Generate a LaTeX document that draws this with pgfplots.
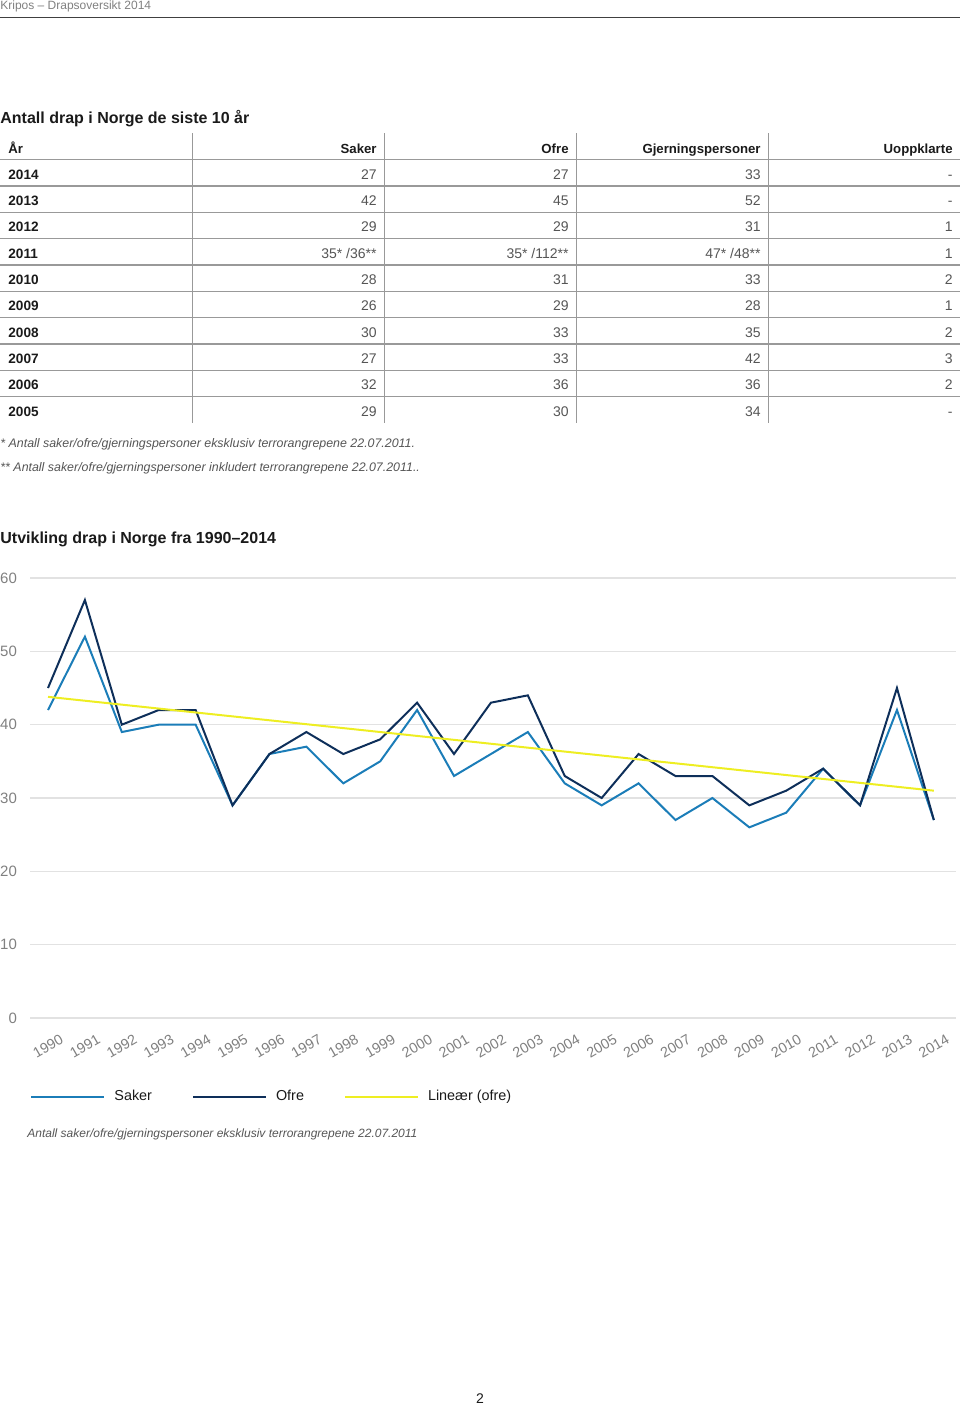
\documentclass[border=0pt]{standalone}
\usepackage{pgfplots}
\pgfplotsset{compat=1.18}
\usepackage{fontspec}
\setmainfont{Liberation Sans}
\definecolor{saker}{HTML}{1B7DB8}
\definecolor{ofre}{HTML}{0E2F5A}
\definecolor{trend}{HTML}{EEEE22}
\definecolor{gridc}{HTML}{E2E2E2}
\definecolor{rulec}{HTML}{999999}
\definecolor{numc}{HTML}{555555}
\definecolor{headc}{HTML}{1A1A1A}
\pgfplotstableread{
x saker ofre
0 42 45
1 52 57
2 39 40
3 40 42
4 40 42
5 29 29
6 36 36
7 37 39
8 32 36
9 35 38
10 42 43
11 33 36
12 36 43
13 39 44
14 32 33
15 29 30
16 32 36
17 27 33
18 30 33
19 26 29
20 28 31
21 34 34
22 29 29
23 42 45
24 27 27
}\drapdata
\pgfplotstableread{
x trend
0 43.8
24 31.0
}\trenddata
\begin{document}
\begin{tikzpicture}
\useasboundingbox (0,0) rectangle (480pt,-704pt);
\begin{scope}[x=0.5pt,y=-0.5pt]
% page header
\node[anchor=base west,inner sep=0,text=gray,font=\fontsize{6}{7}\selectfont] at (0,9.5) {Kripos – Drapsoversikt 2014};
\draw[color=black!75,line width=0.5pt] (0,17) -- (960,17);
% table title
\node[anchor=base west,inner sep=0,text=headc,font=\fontsize{8}{9.6}\selectfont\bfseries] at (0,123.3) {Antall drap i Norge de siste 10 år};
% table lines
\foreach \yy in {159.5,186,212.3,238.6,265,291.3,317.6,344,370.3,396.6}
  \draw[color=rulec,line width=0.7pt] (0,\yy) -- (960,\yy);
\foreach \xx in {192,384,576,768}
  \draw[color=rulec,line width=0.5pt] (\xx,133) -- (\xx,423);
% header row
\begin{scope}[every node/.style={inner sep=0,text=headc,font=\fontsize{6.6}{8}\selectfont\bfseries}]
\node[anchor=base west] at (8,153.3) {År};
\node[anchor=base east] at (377,153.3) {Saker};
\node[anchor=base east] at (569,153.3) {Ofre};
\node[anchor=base east] at (761,153.3) {Gjerningspersoner};
\node[anchor=base east] at (953,153.3) {Uoppklarte};
\end{scope}
% rows
\foreach \yr/\a/\b/\c/\d [count=\i from 0] in {2014/27/27/33/-,2013/42/45/52/-,2012/29/29/31/1,2011/{35* /36**}/{35* /112**}/{47* /48**}/1,2010/28/31/33/2,2009/26/29/28/1,2008/30/33/35/2,2007/27/33/42/3,2006/32/36/36/2,2005/29/30/34/-}{
  \pgfmathsetmacro{\by}{179.3+26.33*\i}
  \node[anchor=base west,inner sep=0,text=headc,font=\fontsize{6.8}{8}\selectfont\bfseries] at (8,\by) {\yr};
  \node[anchor=base east,inner sep=0,text=numc,font=\fontsize{7}{8}\selectfont] at (377,\by) {\a};
  \node[anchor=base east,inner sep=0,text=numc,font=\fontsize{7}{8}\selectfont] at (569,\by) {\b};
  \node[anchor=base east,inner sep=0,text=numc,font=\fontsize{7}{8}\selectfont] at (761,\by) {\c};
  \node[anchor=base east,inner sep=0,text=numc,font=\fontsize{7}{8}\selectfont] at (953,\by) {\d};
}
% footnotes
\node[anchor=base west,inner sep=0,text=numc,font=\fontsize{6.2}{7}\selectfont\itshape] at (0,447) {* Antall saker/ofre/gjerningspersoner eksklusiv terrorangrepene 22.07.2011.};
\node[anchor=base west,inner sep=0,text=numc,font=\fontsize{6.2}{7}\selectfont\itshape] at (0,471) {** Antall saker/ofre/gjerningspersoner inkludert terrorangrepene 22.07.2011..};
% chart title
\node[anchor=base west,inner sep=0,text=headc,font=\fontsize{8}{9.6}\selectfont\bfseries] at (0,543.5) {Utvikling drap i Norge fra 1990–2014};
% bottom note
\node[anchor=base west,inner sep=0,text=numc,font=\fontsize{6}{7}\selectfont\itshape] at (27,1137) {Antall saker/ofre/gjerningspersoner eksklusiv terrorangrepene 22.07.2011};
% page number
\node[anchor=base,inner sep=0,text=headc,font=\fontsize{7}{8}\selectfont] at (480,1403) {2};
\end{scope}
\begin{axis}[
  at={(15pt,-509pt)}, anchor=south west,
  width=463pt, height=220pt, scale only axis,
  xmin=-0.4875, xmax=24.6, ymin=0, ymax=60,
  axis line style={draw=none},
  major tick length=0pt,
  ytick={0,10,...,60},
  xtick={0,...,24},
  xticklabels={1990,1991,1992,1993,1994,1995,1996,1997,1998,1999,2000,2001,2002,2003,2004,2005,2006,2007,2008,2009,2010,2011,2012,2013,2014},
  ymajorgrids,
  grid style={color=gridc,line width=0.75pt},
  yticklabel style={text=gray,font=\fontsize{7.5}{9}\selectfont,xshift=-3pt},
  xticklabel style={text=gray,font=\fontsize{7.2}{9}\selectfont,anchor=center,yshift=-14pt,rotate=30},
  /pgf/number format/assume math mode=true,
  clip=false,
  legend columns=3,
  legend style={at={(axis description cs:0,-0.1795)},anchor=west,draw=none,fill=none,inner sep=0pt,
    font=\fontsize{7.2}{9}\selectfont,text=headc,
    /tikz/every odd column/.append style={column sep=2.5pt},
    /tikz/every even column/.append style={column sep=18pt}},
  legend image code/.code={\draw[#1,line width=1pt] (0pt,0pt) -- (36.5pt,0pt);},
]
\addplot[color=saker,line width=1pt] table[x=x,y=saker] {\drapdata};
\addlegendentry{Saker}
\addplot[color=ofre,line width=1pt] table[x=x,y=ofre] {\drapdata};
\addlegendentry{Ofre}
\addplot[color=trend,line width=1pt] table[x=x,y=trend] {\trenddata};
\addlegendentry{Lineær (ofre)}
\end{axis}
\end{tikzpicture}
\end{document}
